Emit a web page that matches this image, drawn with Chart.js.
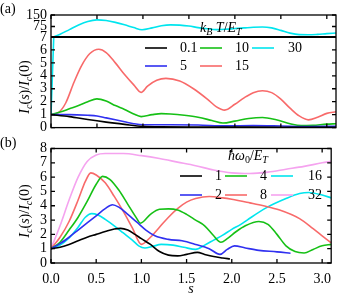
<!DOCTYPE html>
<html>
<head>
<meta charset="utf-8">
<script src="https://cdn.jsdelivr.net/npm/chart.js@4.4.0/dist/chart.umd.min.js"></script>
<style>
html,body{margin:0;padding:0;background:#fff;}
#wrap{position:relative;width:339px;height:293px;overflow:hidden;}
.pane{position:absolute;left:0;width:339px;}
#pa{top:0;height:140px;}
#pb{top:134px;height:159px;}
</style>
</head>
<body>
<div id="wrap">
  <div class="pane" id="pa"><canvas id="ca"></canvas></div>
  <div class="pane" id="pb"><canvas id="cb"></canvas></div>
</div>
<script>
// ---- panel (a): k_B T / E_T ----
const labelsA = ["0.1", "5", "10", "15", "30"];
const sA_01 = [0, 0.2, 0.4, 0.6, 0.8, 1.0, 1.2, 1.6, 2.0, 2.5, 3.1];
const vA_01 = [1, 0.85, 0.62, 0.42, 0.25, 0.1, 0.06, 0.05, 0.04, 0.03, 0.03];
const sA_5 = [0, 0.2, 0.4, 0.5, 0.6, 0.7, 0.8, 0.9, 1.0, 1.3, 1.6, 1.9, 2.2, 2.5, 2.8, 3.1];
const vA_5 = [1, 1.0, 0.95, 0.9, 0.75, 0.6, 0.45, 0.3, 0.22, 0.22, 0.2, 0.13, 0.15, 0.12, 0.08, 0.1];
const sA_10 = [0, 0.1, 0.2, 0.3, 0.4, 0.5, 0.6, 0.7, 0.8, 0.9, 0.98, 1.1, 1.2, 1.3, 1.45, 1.6, 1.75, 1.87, 2.0, 2.15, 2.3, 2.45, 2.6, 2.72, 2.85, 3.0, 3.1];
const vA_10 = [1, 1.2, 1.45, 1.7, 2.0, 2.22, 2.05, 1.7, 1.4, 1.05, 0.85, 1.0, 1.08, 1.05, 0.95, 0.8, 0.55, 0.35, 0.5, 0.7, 0.78, 0.6, 0.3, 0.15, 0.18, 0.27, 0.3];
const sA_15 = [0, 0.08, 0.16, 0.25, 0.33, 0.42, 0.52, 0.6, 0.7, 0.8, 0.9, 0.98, 1.05, 1.15, 1.25, 1.4, 1.55, 1.7, 1.8, 1.89, 2.0, 2.1, 2.2, 2.3, 2.4, 2.5, 2.6, 2.7, 2.8, 2.9, 3.0, 3.1];
const vA_15 = [1, 1.15, 1.9, 3.5, 4.75, 5.7, 6.05, 5.8, 5.0, 4.1, 3.3, 2.72, 3.2, 3.65, 3.8, 3.6, 3.0, 2.2, 1.6, 1.35, 1.8, 2.3, 2.7, 2.85, 2.7, 2.2, 1.5, 0.9, 0.6, 0.8, 1.1, 1.22];
// 30: steep part on the lower axis, rest on the upper (broken) axis
const sA_30lo = [0, 0.03];
const vA_30lo = [1, 7];
const sA_30 = [0.03, 0.1, 0.2, 0.3, 0.4, 0.5, 0.6, 0.7, 0.8, 0.9, 0.99, 1.1, 1.2, 1.3, 1.4, 1.5, 1.6, 1.7, 1.8, 1.9, 2.0, 2.1, 2.2, 2.3, 2.4, 2.5, 2.6, 2.7, 2.8, 2.9, 3.0, 3.1];
const vA_30 = [7, 25, 55, 85, 108, 118, 114, 102, 86, 68, 54, 66, 80, 86, 84, 78, 68, 60, 55, 57, 62, 66, 70, 72, 66, 50, 32, 22, 21, 24, 29, 33];
const ticksA_lo = [0, 1, 2, 3, 4, 5, 6, 7];
const ticksA_up = [7, 75, 150];

// ---- panel (b): hbar omega_0 / E_T ----
const labelsB = ["1", "2", "4", "8", "16", "32"];
const sB_1 = [0, 0.1, 0.2, 0.3, 0.4, 0.5, 0.6, 0.7, 0.77, 0.85, 0.93, 1.0, 1.1, 1.2, 1.3, 1.4, 1.5, 1.62, 1.7, 1.8, 1.9, 1.98];
const vB_1 = [1, 1.1, 1.3, 1.55, 1.8, 2.0, 2.2, 2.38, 2.42, 2.3, 2.0, 1.7, 1.3, 0.8, 0.55, 0.5, 0.6, 0.74, 0.6, 0.45, 0.35, 0.28];
const sB_2 = [0, 0.1, 0.2, 0.3, 0.4, 0.5, 0.6, 0.68, 0.75, 0.85, 0.95, 1.05, 1.15, 1.3, 1.45, 1.6, 1.75, 1.87, 1.95, 2.03, 2.15, 2.3, 2.5, 2.65];
const vB_2 = [1, 1.35, 1.8, 2.3, 2.8, 3.3, 3.8, 4.07, 3.9, 3.4, 2.85, 2.3, 1.9, 1.65, 1.55, 1.3, 1.0, 0.6, 0.95, 1.2, 1.05, 0.88, 0.78, 0.68];
const sB_4 = [0, 0.1, 0.2, 0.3, 0.4, 0.5, 0.57, 0.65, 0.75, 0.85, 0.95, 0.99, 1.1, 1.2, 1.3, 1.4, 1.5, 1.6, 1.7, 1.8, 1.88, 1.95, 2.05, 2.15, 2.3, 2.4, 2.5, 2.6, 2.7, 2.8, 2.9, 3.0, 3.1];
const vB_4 = [1, 1.45, 2.3, 3.2, 4.3, 5.5, 6.05, 5.85, 5.1, 4.1, 3.1, 2.78, 3.4, 3.75, 3.78, 3.7, 3.4, 3.0, 2.6, 1.9, 1.45, 1.7, 2.2, 2.6, 2.9, 2.7, 2.0, 1.2, 0.8, 0.7, 0.95, 1.2, 1.3];
const sB_8 = [0, 0.1, 0.2, 0.3, 0.38, 0.44, 0.5, 0.6, 0.7, 0.8, 0.9, 1.0, 1.1, 1.2, 1.3, 1.4, 1.5, 1.6, 1.75, 1.9, 2.0, 2.2, 2.35, 2.53, 2.75, 2.9, 3.0, 3.1];
const vB_8 = [1, 1.8, 2.9, 4.4, 5.7, 6.3, 6.15, 5.6, 4.65, 3.6, 2.45, 1.3, 1.8, 2.5, 3.2, 3.8, 4.25, 4.5, 4.65, 4.55, 4.45, 4.2, 4.0, 3.7, 3.1, 2.4, 1.9, 1.4];
const sB_16 = [0, 0.1, 0.2, 0.3, 0.38, 0.45, 0.52, 0.6, 0.7, 0.8, 0.9, 0.97, 1.04, 1.12, 1.22, 1.35, 1.47, 1.6, 1.7, 1.8, 1.9, 2.0, 2.1, 2.17, 2.38, 2.6, 2.75, 2.85, 3.0, 3.1];
const vB_16 = [1, 1.25, 1.75, 2.5, 3.2, 3.45, 3.35, 3.05, 2.6, 2.1, 1.6, 1.2, 1.05, 1.15, 1.3, 1.25, 1.1, 0.95, 1.25, 1.6, 1.95, 2.35, 2.7, 3.0, 3.85, 4.5, 4.85, 4.93, 4.75, 4.55];
const sB_32 = [0, 0.1, 0.2, 0.3, 0.4, 0.5, 0.6, 0.8, 1.0, 1.2, 1.4, 1.6, 1.8, 2.0, 2.2, 2.4, 2.6, 2.8, 3.0, 3.1];
const vB_32 = [1, 2.6, 4.4, 6.0, 7.1, 7.55, 7.65, 7.65, 7.5, 7.3, 7.05, 6.8, 6.5, 6.3, 6.25, 6.35, 6.55, 6.75, 7.0, 7.1];
const ticksB_y = [0, 1, 2, 3, 4, 5, 6, 7, 8];
const ticksX = [0, 0.5, 1, 1.5, 2, 2.5, 3];

const serif = "'Liberation Serif', 'DejaVu Serif', serif";
const FS = 14;
const col = {k: "#000000", b: "#3030f0", g: "#16c016", r: "#f86a6a", c: "#00e5ee", p: "#f5a3ef"};

const pts = (xs, ys) => xs.map((x, i) => ({x: x, y: ys[i]}));
function ds(xs, ys, color, axis) {
  return {data: pts(xs, ys), borderColor: color, backgroundColor: color, yAxisID: axis,
          borderWidth: 1.6, pointRadius: 0, cubicInterpolationMode: "monotone", fill: false};
}

// draw text made of runs [text, italic, subscript]
function runW(ctx, parts) {
  let w = 0;
  parts.forEach(([t, it, sub]) => {
    ctx.font = (it ? "italic " : "") + (sub ? FS * 0.72 : FS) + "px " + serif;
    w += ctx.measureText(t).width;
  });
  return w;
}
function runs(ctx, parts, x, y) {
  parts.forEach(([t, it, sub]) => {
    ctx.font = (it ? "italic " : "") + (sub ? FS * 0.72 : FS) + "px " + serif;
    ctx.fillText(t, x, y + (sub ? FS * 0.3 : 0));
    x += ctx.measureText(t).width;
  });
}
const yTitle = [["I", true], ["c", true, true], ["(", false], ["s", true], [")/", false], ["I", true], ["c", true, true], ["(0)", false]];

// frame with inward ticks, mirrored, plus the labels/legend
const frame = {
  id: "frame",
  afterDatasetsDraw(chart, args, o) {
    const {ctx, chartArea: a, scales} = chart;
    const tl = 4;
    ctx.save();
    ctx.strokeStyle = "#000";
    ctx.lineWidth = 1.3;
    ctx.strokeRect(a.left, a.top, a.right - a.left, a.bottom - a.top);
    ctx.beginPath();
    scales.x.ticks.forEach(t => {
      const px = scales.x.getPixelForValue(t.value);
      ctx.moveTo(px, a.bottom); ctx.lineTo(px, a.bottom - tl);
      ctx.moveTo(px, a.top); ctx.lineTo(px, a.top + tl);
    });
    o.y.forEach(id => {
      const s = scales[id];
      s.ticks.forEach(t => {
        const py = s.getPixelForValue(t.value);
        ctx.moveTo(a.left, py); ctx.lineTo(a.left + tl, py);
        ctx.moveTo(a.right, py); ctx.lineTo(a.right - tl, py);
      });
    });
    ctx.stroke();
    if (o.brk) {
      const py = scales.yUp.bottom;
      ctx.lineWidth = 2;
      ctx.beginPath(); ctx.moveTo(a.left, py); ctx.lineTo(a.right, py); ctx.stroke();
    }
    ctx.fillStyle = "#000";
    ctx.textBaseline = "middle";
    // panel tag
    ctx.font = FS + "px " + serif;
    ctx.textAlign = "left";
    ctx.fillText(o.tag, 0, o.tagY);
    // y title, rotated
    ctx.save();
    ctx.translate(25, o.titleY);
    ctx.rotate(-Math.PI / 2);
    runs(ctx, yTitle, -runW(ctx, yTitle) / 2, 0);
    ctx.restore();
    // legend title
    runs(ctx, o.legTitle, o.legTitleX, o.legTitleY);
    // legend entries
    ctx.lineWidth = 1.6;
    o.items.forEach(it => {
      ctx.strokeStyle = it.color;
      ctx.beginPath(); ctx.moveTo(it.x0, it.y); ctx.lineTo(it.x1, it.y); ctx.stroke();
      ctx.font = FS + "px " + serif;
      ctx.textAlign = it.align;
      ctx.fillText(it.text, it.tx, it.y);
    });
    ctx.restore();
  }
};

const xScale = (showLabels) => ({
  type: "linear", min: 0, max: 3.1,
  afterBuildTicks: s => { s.ticks = ticksX.map(v => ({value: v})); },
  grid: {display: false, drawTicks: false},
  border: {display: false},
  ticks: {display: showLabels, color: "#000", padding: 8, autoSkip: false, maxRotation: 0,
          font: {family: serif, size: FS}, callback: v => v.toFixed(1)},
  title: {display: showLabels, text: "s", color: "#000", padding: {top: 0, bottom: -5},
          font: {family: serif, size: FS, style: "italic"}},
  afterFit: s => { s.height = showLabels ? 30 : 10.7; }
});
const yScale = (min, max, list, extra) => Object.assign({
  type: "linear", position: "left", min: min, max: max,
  afterBuildTicks: s => { s.ticks = list.map(v => ({value: v})); },
  grid: {display: false, drawTicks: false},
  border: {display: false},
  ticks: {color: "#000", padding: 4, autoSkip: false, font: {family: serif, size: FS}},
  afterFit: s => { s.width = 51; }
}, extra);

// ---- chart (a) ----
const itemsA = [];
[[labelsA[0], col.k, 0, 0], [labelsA[1], col.b, 0, 1], [labelsA[2], col.g, 1, 0], [labelsA[3], col.r, 1, 1], [labelsA[4], col.c, 2, 0]]
  .forEach(([t, c, i, j]) => {
    const x0 = [145, 200, 252][i];
    itemsA.push({text: t, color: c, x0: x0, x1: x0 + 22, y: 48 + j * 18, tx: [180, 235, 288][i], align: "left"});
  });

new Chart(document.getElementById("ca"), {
  type: "line",
  data: {datasets: [
    ds(sA_01, vA_01, col.k, "yLo"),
    ds(sA_5, vA_5, col.b, "yLo"),
    ds(sA_10, vA_10, col.g, "yLo"),
    ds(sA_15, vA_15, col.r, "yLo"),
    ds(sA_30lo, vA_30lo, col.c, "yLo"),
    ds(sA_30, vA_30, col.c, "yUp")
  ]},
  options: {
    responsive: true, maintainAspectRatio: false, animation: false,
    layout: {padding: {left: 0, right: 3, top: 15, bottom: 0}},
    plugins: {
      legend: {display: false}, tooltip: {enabled: false},
      frame: {y: ["yUp", "yLo"], brk: true, tag: "(a)", tagY: 9, titleY: 87,
              legTitle: [["k", true], ["B", true, true], [" T", true], ["/", false], ["E", true], ["T", true, true]],
              legTitleX: 200, legTitleY: 28, items: itemsA}
    },
    scales: {
      x: xScale(false),
      yLo: yScale(0, 7, ticksA_lo, {stack: "a", stackWeight: 92,
        ticks: {color: "#000", padding: 4, autoSkip: false, font: {family: serif, size: FS},
                callback: v => (v === 7 ? "" : v)}}),
      yUp: yScale(7, 150, ticksA_up, {stack: "a", stackWeight: 22.3})
    }
  },
  plugins: [frame]
});

// ---- chart (b) ----
const itemsB = [];
[[labelsB[0], col.k, 0, 0], [labelsB[1], col.b, 0, 1], [labelsB[2], col.g, 1, 0], [labelsB[3], col.r, 1, 1], [labelsB[4], col.c, 2, 0], [labelsB[5], col.p, 2, 1]]
  .forEach(([t, c, i, j]) => {
    const x0 = [180, 225, 271][i];
    itemsB.push({text: t, color: c, x0: x0, x1: x0 + 22, y: 42 + j * 19, tx: [222, 267, 322][i], align: "right"});
  });

new Chart(document.getElementById("cb"), {
  type: "line",
  data: {datasets: [
    ds(sB_1, vB_1, col.k, "y"),
    ds(sB_2, vB_2, col.b, "y"),
    ds(sB_4, vB_4, col.g, "y"),
    ds(sB_8, vB_8, col.r, "y"),
    ds(sB_16, vB_16, col.c, "y"),
    ds(sB_32, vB_32, col.p, "y")
  ]},
  options: {
    responsive: true, maintainAspectRatio: false, animation: false,
    layout: {padding: {left: 0, right: 3, top: 14.5, bottom: 0}},
    plugins: {
      legend: {display: false}, tooltip: {enabled: false},
      frame: {y: ["y"], brk: false, tag: "(b)", tagY: 9, titleY: 77,
              legTitle: [["\u0127", true], ["\u03c9", true], ["0", false, true], ["/", false], ["E", true], ["T", true, true]],
              legTitleX: 228, legTitleY: 22, items: itemsB}
    },
    scales: {
      x: xScale(true),
      y: yScale(0, 8, ticksB_y, {})
    }
  },
  plugins: [frame]
});
</script>
</body>
</html>
